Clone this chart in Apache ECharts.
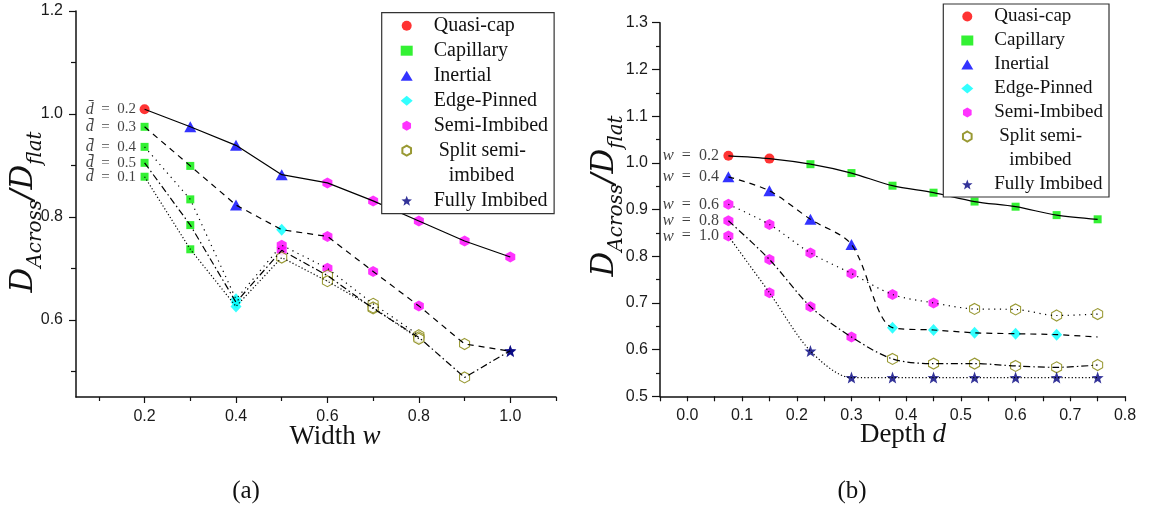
<!DOCTYPE html>
<html><head><meta charset="utf-8">
<script src="https://cdn.jsdelivr.net/npm/echarts@6/dist/echarts.min.js"></script>
<style>html,body{margin:0;padding:0;background:#fff}#c{width:1157px;height:511px}</style>
</head><body><div id="c"></div>
<script>
// ---------- DATA ----------
const regimeCodes = ['Q','C','I','E','S','P','F'];
const regimeNames = ['Quasi-cap','Capillary','Inertial','Edge-Pinned','Semi-Imbibed','Split semi-','Fully Imbibed'];

// (a) x = width w, curves for several dbar
const widthW = [0.2,0.3,0.4,0.5,0.6,0.7,0.8,0.9,1.0];
const aLabels = ['0.2','0.3','0.4','0.5','0.1'];
const aY02 = [1.009,0.975,0.939,0.882,0.866,0.831,0.792,0.753,0.722];
const aR02 = ['Q','I','I','I','S','S','S','S','S'];
const aY03 = [0.975,0.899,0.823,0.775,0.762,0.694,0.627,0.553,0.539];
const aR03 = ['C','C','I','E','S','S','S','P','F'];
const aY04 = [0.936,0.834,0.640,0.745,0.700,0.631,0.570];
const aR04 = ['C','C','E','S','S','P','P'];
const aY05 = [0.905,0.784,0.634,0.735,0.686,0.622,0.566,0.488,0.540];
const aR05 = ['C','C','E','S','P','P','P','P','F'];
const aY01 = [0.878,0.737,0.626,0.721,0.675,0.624,0.563];
const aR01 = ['C','C','E','P','P','P','P'];

// (b) x = depth d, curves for several w
const depthD = [0.075,0.15,0.225,0.3,0.375,0.45,0.525,0.6,0.675,0.75];
const bLabels = ['0.2','0.4','0.6','0.8','1.0'];
const bY02 = [1.015,1.009,0.997,0.978,0.951,0.936,0.917,0.906,0.888,0.879];
const bR02 = ['Q','Q','C','C','C','C','C','C','C','C'];
const bY04 = [0.970,0.940,0.879,0.825,0.647,0.642,0.636,0.634,0.632,0.627];
const bR04 = ['I','I','I','I','E','E','E','E','E','-'];
const bY06 = [0.911,0.868,0.807,0.763,0.718,0.700,0.687,0.686,0.673,0.676];
const bR06 = ['S','S','S','S','S','S','P','P','P','P'];
const bY08 = [0.876,0.793,0.692,0.627,0.580,0.570,0.570,0.565,0.562,0.567];
const bR08 = ['S','S','S','S','P','P','P','P','P','P'];
const bY10 = [0.843,0.722,0.597,0.540,0.540,0.540,0.540,0.540,0.540,0.540];
const bR10 = ['S','S','F','F','F','F','F','F','F','F'];

// ticks
const aXTicks = [0.2,0.4,0.6,0.8,1.0];
const aXMinor = [0.1,0.3,0.5,0.7,0.9,1.1];
const aYTicks = [0.6,0.8,1.0,1.2];
const aYMinor = [0.5,0.7,0.9,1.1];
const bXTicks = [0.0,0.1,0.2,0.3,0.4,0.5,0.6,0.7,0.8];
const bXMinor = [-0.05,0.05,0.15,0.25,0.35,0.45,0.55,0.65,0.75];

// ---------- STYLES ----------
const hexPath = 'path://M0,-1L0.866,-0.5L0.866,0.5L0,1L-0.866,0.5L-0.866,-0.5Z';
function starPath(){
  let s='path://';
  for(let i=0;i<10;i++){
    const a=-Math.PI/2+i*Math.PI/5, r=i%2?0.42:1;
    s+=(i?'L':'M')+(r*Math.cos(a)).toFixed(3)+','+(r*Math.sin(a)).toFixed(3);
  }
  return s+'Z';
}
const regimeStyle = {
  Q:{symbol:'circle',size:10,item:{color:'#ff0000'}},
  C:{symbol:'rect',size:8,item:{color:'#00ee00'}},
  I:{symbol:'triangle',size:[12,11],item:{color:'#0000ff'}},
  E:{symbol:'diamond',size:[11,12],item:{color:'#00ffff'}},
  S:{symbol:hexPath,size:[10,11],item:{color:'#ff00ff'}},
  P:{symbol:hexPath,size:[10,11],item:{color:'#ffffff',borderColor:'#808000',borderWidth:1.1}},
  F:{symbol:starPath(),size:12,item:{color:'#000080'}}
};
const lineTypes = ['solid',[6,5],[1.2,4.5],[7,3,1.5,3],[1.2,2.2]];

const serif = 'Liberation Serif';
const sans = 'Liberation Sans';

// ---------- BUILD ----------
const series = [];
function addPanel(xs, ys, rs, labels, xi, yi, smooth, labTpl, labSize, labDist){
  ys.forEach((y,k)=>{
    series.push({type:'line', xAxisIndex:xi, yAxisIndex:yi, silent:true, z:3,
      showSymbol:false, smooth:smooth, animation:false,
      lineStyle:{color:'#000', width:1.2, type:lineTypes[k]},
      data:y.map((v,j)=>[xs[j],v])});
  });
  regimeCodes.forEach((c,ri)=>{
    const pts=[];
    ys.forEach((y,k)=>y.forEach((v,j)=>{ if(rs[k][j]===c) pts.push([xs[j],v]); }));
    const st=regimeStyle[c];
    series.push({type:'scatter', name:regimeNames[ri], xAxisIndex:xi, yAxisIndex:yi, z:2,
      symbol:st.symbol, symbolSize:st.size, itemStyle:st.item, data:pts, animation:false});
  });
  series.push({type:'scatter', xAxisIndex:xi, yAxisIndex:yi, silent:true, z:4, symbolSize:1,
    itemStyle:{color:'rgba(0,0,0,0)'}, animation:false,
    label:{show:true, position:'left', distance:labDist, formatter:p=>labTpl+p.name,
      fontFamily:serif, fontSize:labSize, color:'#111',
      rich:{i:{fontFamily:serif, fontStyle:'italic', fontSize:labSize+1, color:'#111'}}},
    data:ys.map((y,k)=>({name:labels[k], value:[xs[0],y[0]]}))});
}
addPanel(widthW,[aY02,aY03,aY04,aY05,aY01],[aR02,aR03,aR04,aR05,aR01],aLabels,0,0,false,'{i|d\u0304}\u2002=\u2002',15,8);
addPanel(depthD,[bY02,bY04,bY06,bY08,bY10],[bR02,bR04,bR06,bR08,bR10],bLabels,2,2,0.3,'{i|w}\u2002=\u2002',16,9);
series.push({type:'scatter', name:'imbibed', symbol:'none', data:[], xAxisIndex:0, yAxisIndex:0});

const axisLineS = {show:true, onZero:false, lineStyle:{color:'#111', width:1.5}};
const tickLab = {fontFamily:sans, fontSize:16, color:'#1a1a1a'};
const fmt1 = v=>(Math.abs(v)<1e-9?0:v).toFixed(1);

const legendData = regimeNames.slice(0,6).map(n=>({name:n})).concat([{name:'imbibed', icon:'none'},{name:'Fully Imbibed'}]);
function legendFmt(n){
  if(n==='Split semi-') return '{a|Split semi-}';
  if(n==='imbibed') return '{b|imbibed}';
  return '{t|'+n+'}';
}
function mkLegend(left, top, fs, lh, padL, txtPad){
  const r = p=>({padding:[0,0,0,p], fontFamily:serif, fontSize:fs, color:'#111'});
  return {left:left, top:top, orient:'vertical', padding:[3,6,3,padL], itemWidth:12, itemHeight:10,
    itemGap:lh-fs, selectedMode:false, borderColor:'#333', borderWidth:1.2,
    backgroundColor:'#fff', data:legendData, formatter:legendFmt,
    textStyle:{fontFamily:serif, fontSize:fs, lineHeight:fs, color:'#111',
      rich:{t:r(txtPad), a:r(txtPad+5), b:r(txtPad+15)}}};
}

const titleRich = fs=>({
  d:{fontFamily:'DejaVu Serif', fontStyle:'italic', fontSize:fs, fill:'#111', padding:[0,0,6,0]},
  s:{fontFamily:'DejaVu Serif', fontStyle:'italic', fontSize:Math.round(fs*0.66), fill:'#111', verticalAlign:'bottom'}
});

const option = {
  animation:false,
  backgroundColor:'#fff',
  grid:[{left:76, top:11, width:480, height:386},{left:660, top:22.7, width:465, height:373.6}],
  xAxis:[
    {gridIndex:0, type:'value', min:0.05, max:1.1, position:'bottom', axisLine:axisLineS,
      axisTick:{customValues:aXTicks, length:6, lineStyle:{color:'#111',width:1.2}},
      axisLabel:Object.assign({customValues:aXTicks, formatter:fmt1, margin:12}, tickLab), splitLine:{show:false}},
    {gridIndex:0, type:'value', min:0.05, max:1.1, position:'bottom', axisLine:{show:false},
      axisTick:{customValues:aXMinor, length:4, lineStyle:{color:'#111',width:1.2}},
      axisLabel:{show:false}, splitLine:{show:false}},
    {gridIndex:1, type:'value', min:-0.05, max:0.8, position:'bottom', axisLine:axisLineS,
      axisTick:{customValues:bXTicks, length:5, lineStyle:{color:'#111',width:1.2}},
      axisLabel:Object.assign({customValues:bXTicks, formatter:fmt1, margin:11}, tickLab), splitLine:{show:false}},
    {gridIndex:1, type:'value', min:-0.05, max:0.8, position:'bottom', axisLine:{show:false},
      axisTick:{customValues:bXMinor, length:5, lineStyle:{color:'#111',width:1.2}},
      axisLabel:{show:false}, splitLine:{show:false}}
  ],
  yAxis:[
    {gridIndex:0, type:'value', min:0.45, max:1.2, position:'left', axisLine:axisLineS,
      axisTick:{customValues:aYTicks, length:7, lineStyle:{color:'#111',width:1.2}},
      axisLabel:Object.assign({customValues:aYTicks, formatter:fmt1, margin:13}, tickLab), splitLine:{show:false}},
    {gridIndex:0, type:'value', min:0.45, max:1.2, position:'left', axisLine:{show:false},
      axisTick:{customValues:aYMinor, length:5, lineStyle:{color:'#111',width:1.2}},
      axisLabel:{show:false}, splitLine:{show:false}},
    {gridIndex:1, type:'value', min:0.5, max:1.3, interval:0.1, position:'left', axisLine:axisLineS,
      axisTick:{length:8, lineStyle:{color:'#111',width:1.2}},
      minorTick:{show:true, splitNumber:2, length:4, lineStyle:{color:'#111',width:1.2}},
      axisLabel:Object.assign({formatter:fmt1, margin:12}, tickLab), splitLine:{show:false}}
  ],
  legend:[mkLegend(381.7,12.7,20,25,19,16), mkLegend(943.3,4,19,24,18,16)],
  graphic:[
    {type:'text', x:27, y:212, rotation:Math.PI/2, style:{text:'{d|D}{s|Across}{d|/D}{s|flat}', rich:titleRich(31), align:'center', verticalAlign:'middle'}},
    {type:'text', x:608, y:196, rotation:Math.PI/2, style:{text:'{d|D}{s|Across}{d|/D}{s|flat}', rich:titleRich(31), align:'center', verticalAlign:'middle'}},
    {type:'text', x:335, y:437, style:{text:'Width {i|w}', fontFamily:serif, fontSize:27, fill:'#111', align:'center', verticalAlign:'middle',
      rich:{i:{fontFamily:serif, fontStyle:'italic', fontSize:27, fill:'#111'}}}},
    {type:'text', x:903, y:435, style:{text:'Depth {i|d}', fontFamily:serif, fontSize:27, fill:'#111', align:'center', verticalAlign:'middle',
      rich:{i:{fontFamily:serif, fontStyle:'italic', fontSize:27, fill:'#111'}}}},
    {type:'text', x:246, y:491, style:{text:'(a)', fontFamily:serif, fontSize:25, fill:'#111', align:'center', verticalAlign:'middle'}},
    {type:'text', x:852, y:491, style:{text:'(b)', fontFamily:serif, fontSize:25, fill:'#111', align:'center', verticalAlign:'middle'}}
  ],
  series:series
};
const chart = echarts.init(document.getElementById('c'), null, {renderer:'canvas'});
chart.setOption(option);
</script></body></html>
